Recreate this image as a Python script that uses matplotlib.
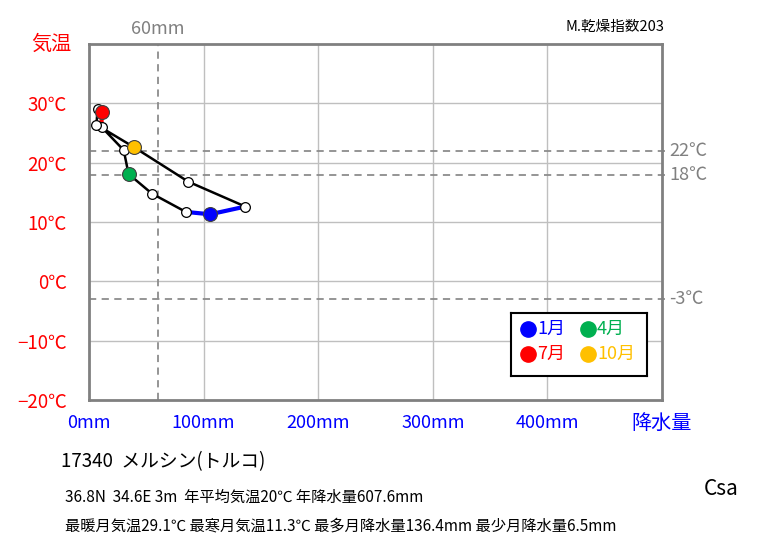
import matplotlib
matplotlib.use("Agg")
import matplotlib.pyplot as plt

plt.rcParams['font.family'] = ['Noto Sans CJK JP', 'DejaVu Sans']

months = ["1月", "2月", "3月", "4月", "5月", "6月", "7月", "8月", "9月", "10月", "11月", "12月"]
precip = [105.7, 84.5, 54.8, 34.5, 30.3, 11.0, 11.0, 7.5, 6.5, 39.3, 86.6, 136.4]
temp = [11.3, 11.7, 14.8, 18.1, 22.1, 26.0, 28.6, 29.1, 26.4, 22.6, 16.8, 12.6]

x_ticks = [0, 100, 200, 300, 400]
x_labels = ["0mm", "100mm", "200mm", "300mm", "400mm"]
y_ticks = [-20, -10, 0, 10, 20, 30]
y_labels = ["−20℃", "−10℃", "0℃", "10℃", "20℃", "30℃"]
ref_temps = [22, 18, -3]
ref_labels = ["22℃", "18℃", "-3℃"]
ref_precip = 60

highlight = {0: "#0000FF", 3: "#00B050", 6: "#FF0000", 9: "#FFC000"}
seg_color = {0: "#0000FF", 6: "#FF0000"}

W, H = 763, 545
fig = plt.figure(figsize=(W / 100, H / 100), dpi=100)
ax = fig.add_axes([89 / W, 1 - 400 / H, (662 - 89) / W, (400 - 44) / H])
ax.set_xlim(0, 500)
ax.set_ylim(-20, 40)

grid_c = "#BFBFBF"
for xv in x_ticks[1:]:
    ax.axvline(xv, color=grid_c, lw=1, zorder=1)
for yv in y_ticks[1:]:
    ax.axhline(yv, color=grid_c, lw=1, zorder=1)

dash_c = "#8C8C8C"
for tv, tl in zip(ref_temps, ref_labels):
    ax.plot([0, 503], [tv, tv], color=dash_c, lw=1.3, ls=(0, (4, 3)), clip_on=False, zorder=2)
    ax.text(506, tv, tl, color="#808080", fontsize=13, va="center", ha="left",
            transform=ax.transData, clip_on=False)
ax.axvline(ref_precip, color=dash_c, lw=1.3, ls=(0, (4, 3)), zorder=2)
ax.text(ref_precip, 41.0, f"{ref_precip}mm", color="#808080", fontsize=13,
        ha="center", va="bottom", clip_on=False)

for s in ax.spines.values():
    s.set_color("#808080")
    s.set_linewidth(2)

ax.set_xticks(x_ticks)
ax.set_xticklabels(x_labels, color="#0000FF", fontsize=13)
ax.set_yticks(y_ticks)
ax.set_yticklabels(y_labels, color="#FF0000", fontsize=13.5)
ax.tick_params(axis='y', length=0, pad=16)
ax.tick_params(axis='x', length=0, pad=10)

# loop line
xs = precip + [precip[0]]
ys = temp + [temp[0]]
ax.plot(xs, ys, color="black", lw=1.8, zorder=3)

n = len(precip)
for i, c in seg_color.items():
    prv = (i - 1) % n
    nxt = (i + 1) % n
    ax.plot([precip[prv], precip[i], precip[nxt]], [temp[prv], temp[i], temp[nxt]],
            color=c, lw=3, zorder=4, solid_capstyle='round')

for i in range(n):
    if i in highlight:
        ax.plot(precip[i], temp[i], 'o', ms=10, mfc=highlight[i], mec="#404040",
                mew=0.8, zorder=6)
    else:
        ax.plot(precip[i], temp[i], 'o', ms=7, mfc="white", mec="black",
                mew=0.9, zorder=5)

# legend (manual, in its own box)
lx0, ly0, lx1, ly1 = 511, 313, 647, 376
lax = fig.add_axes([lx0 / W, 1 - ly1 / H, (lx1 - lx0) / W, (ly1 - ly0) / H])
lax.set_xlim(0, lx1 - lx0)
lax.set_ylim(ly1 - ly0, 0)
lax.set_xticks([])
lax.set_yticks([])
for s in lax.spines.values():
    s.set_color("black")
    s.set_linewidth(1.5)
leg_pos = {0: (17, 16), 3: (77, 16), 6: (17, 41), 9: (77, 41)}
for i, (px, py) in leg_pos.items():
    lax.plot(px, py, 'o', ms=11, mfc=highlight[i], mec=highlight[i])
    lax.text(px + 9, py, months[i], color=highlight[i], fontsize=13, ha="left", va="center")

# outer texts
fig.text(31 / W, 1 - 44 / H, "気温", color="#FF0000", fontsize=14.5, ha="left", va="center")
fig.text(631 / W, 1 - 423 / H, "降水量", color="#0000FF", fontsize=14.5, ha="left", va="center")
fig.text(664 / W, 1 - 27 / H, "M.乾燥指数203", color="black", fontsize=10.5, ha="right", va="center")
fig.text(61 / W, 1 - 462 / H, "17340  メルシン(トルコ)", color="black", fontsize=13.5, ha="left", va="center")
fig.text(65 / W, 1 - 497 / H, "36.8N  34.6E 3m  年平均気温20℃ 年降水量607.6mm",
         color="black", fontsize=11, ha="left", va="center")
fig.text(65 / W, 1 - 526 / H,
         "最暖月気温29.1℃ 最寒月気温11.3℃ 最多月降水量136.4mm 最少月降水量6.5mm",
         color="black", fontsize=11, ha="left", va="center")
fig.text(704 / W, 1 - 489 / H, "Csa", color="black", fontsize=15, ha="left", va="center")

fig.savefig("out.png", dpi=100, facecolor="white")
